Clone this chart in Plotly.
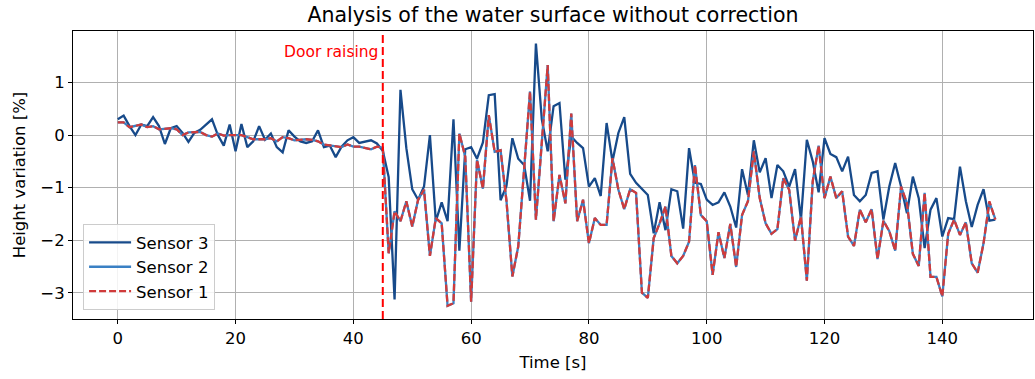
import plotly.graph_objects as go

time_s = list(range(150))

sensor3 = [0.30, 0.37, 0.17, 0.00, 0.20, 0.17, 0.34, 0.17, -0.17, 0.13,
           0.17, 0.04, -0.13, 0.04, 0.10, 0.20, 0.30, 0.00, -0.20, 0.20,
           -0.31, 0.21, -0.23, -0.12, 0.17, -0.09, 0.03, -0.23, -0.33, 0.09,
           -0.03, -0.12, -0.15, -0.12, 0.09, -0.23, -0.20, -0.42, -0.22, -0.10,
           -0.04, -0.15, -0.12, -0.10, -0.16, -0.30, -0.80, -3.13, 0.86, -0.25,
           -1.03, -1.23, -0.98, 0.00, -1.64, -1.28, -1.64, 0.30, -2.20, -0.27,
           -0.23, -0.45, -0.14, 0.76, 0.78, -1.24, -0.97, -0.06, -0.45, -0.57,
           -1.25, 1.74, 0.30, -0.31, 0.55, 0.61, -0.85, -0.03, -0.15, -0.25,
           -0.98, -0.82, -1.16, 0.23, -0.50, 0.04, 0.34, -0.74, -0.91, -1.03,
           -1.14, -1.87, -1.28, -1.81, -1.03, -1.07, -1.78, -0.25, -0.91, -0.93,
           -1.23, -1.33, -1.28, -1.09, -1.36, -1.76, -0.65, -1.14, -0.10, -0.71,
           -0.44, -1.20, -0.57, -0.69, -0.98, -0.65, -1.61, -0.09, -0.50, -1.09,
           -0.06, -0.36, -0.42, -0.69, -0.41, -1.14, -1.26, -1.14, -0.72, -0.69,
           -1.61, -0.98, -0.53, -0.98, -1.49, -0.79, -1.20, -2.15, -1.42, -1.20,
           -1.93, -1.58, -1.60, -0.60, -1.26, -1.75, -1.33, -1.03, -1.63, -1.61]

sensor2 = [0.24, 0.24, 0.15, 0.18, 0.20, 0.15, 0.17, 0.11, 0.12, 0.13,
           0.11, 0.00, 0.05, 0.06, 0.06, 0.00, -0.03, 0.03, -0.01, 0.00,
           0.00, 0.00, -0.04, -0.08, -0.08, -0.08, -0.06, -0.12, -0.04, -0.06,
           -0.10, -0.09, -0.08, -0.09, -0.12, -0.18, -0.20, -0.21, -0.23, -0.18,
           -0.22, -0.22, -0.25, -0.27, -0.22, -0.24, -2.25, -1.45, -1.64, -1.26,
           -1.74, -1.23, -1.04, -2.30, -1.58, -1.68, -3.25, -3.20, 0.03, -0.41,
           -3.17, -0.47, -1.02, 0.38, -0.32, -0.29, -1.25, -2.69, -2.12, -0.70,
           0.83, -1.61, -0.15, 1.33, -1.64, -0.76, -1.30, 0.41, -1.64, -1.23,
           -2.06, -1.58, -1.71, -1.71, -0.44, -1.04, -1.41, -1.03, -1.10, -3.00,
           -3.10, -1.96, -1.68, -1.36, -2.30, -2.44, -2.30, -2.03, -0.57, -1.52,
           -1.64, -2.66, -1.85, -2.34, -1.69, -2.51, -1.52, -1.26, -0.31, -1.20,
           -1.68, -1.88, -1.79, -0.82, -1.04, -2.01, -1.55, -2.77, -0.88, -0.20,
           -1.20, -0.79, -1.20, -1.07, -1.93, -2.11, -1.42, -1.66, -1.41, -2.36,
           -1.63, -1.83, -2.20, -0.98, -1.30, -2.26, -2.49, -1.10, -2.70, -2.70,
           -3.07, -1.88, -1.61, -1.90, -1.66, -2.44, -2.62, -2.06, -1.28, -1.60]

sensor1 = [0.24, 0.24, 0.15, 0.18, 0.20, 0.15, 0.17, 0.11, 0.12, 0.13,
           0.11, 0.00, 0.05, 0.06, 0.06, 0.00, -0.03, 0.03, -0.01, 0.00,
           0.00, 0.00, -0.04, -0.08, -0.08, -0.08, -0.06, -0.12, -0.04, -0.06,
           -0.10, -0.09, -0.08, -0.09, -0.12, -0.18, -0.20, -0.21, -0.23, -0.18,
           -0.22, -0.22, -0.25, -0.27, -0.22, -0.24, -2.25, -1.45, -1.64, -1.26,
           -1.74, -1.23, -1.04, -2.30, -1.58, -1.68, -3.25, -3.20, 0.03, -0.41,
           -3.17, -0.47, -1.02, 0.38, -0.32, -0.29, -1.25, -2.69, -2.12, -0.70,
           0.83, -1.61, -0.15, 1.33, -1.64, -0.76, -1.30, 0.41, -1.64, -1.23,
           -2.06, -1.58, -1.71, -1.71, -0.44, -1.04, -1.41, -1.03, -1.10, -3.00,
           -3.10, -1.96, -1.68, -1.36, -2.30, -2.44, -2.30, -2.03, -0.57, -1.52,
           -1.64, -2.66, -1.85, -2.34, -1.69, -2.51, -1.52, -1.26, -0.31, -1.20,
           -1.68, -1.88, -1.79, -0.82, -1.04, -2.01, -1.55, -2.77, -0.88, -0.20,
           -1.20, -0.79, -1.20, -1.07, -1.93, -2.11, -1.42, -1.66, -1.41, -2.36,
           -1.63, -1.83, -2.20, -0.98, -1.30, -2.26, -2.49, -1.10, -2.70, -2.70,
           -3.07, -1.88, -1.61, -1.90, -1.66, -2.44, -2.62, -2.06, -1.26, -1.61]

door_time = 45
x_ticks = [0, 20, 40, 60, 80, 100, 120, 140]
y_ticks = [-3, -2, -1, 0, 1]

FONT = "DejaVu Sans"

fig = go.Figure()
fig.add_trace(go.Scatter(x=time_s, y=sensor3, mode="lines", name="Sensor 3",
                         line=dict(color="#174a8a", width=2.3), legendgroup="s3"))
fig.add_trace(go.Scatter(x=time_s, y=sensor2, mode="lines", name="Sensor 2",
                         line=dict(color="#3a80c4", width=2.3), legendgroup="s2"))
fig.add_trace(go.Scatter(x=time_s, y=sensor1, mode="lines", name="Sensor 1",
                         line=dict(color="#d03b3b", width=2.3, dash="7px,3px"), legendgroup="s1"))

fig.add_shape(type="line", xref="x", yref="paper", x0=door_time, x1=door_time, y0=0, y1=1,
              line=dict(color="#ff0000", width=2, dash="8px,4px"))
fig.add_annotation(x=door_time, y=1, xref="x", yref="paper", text="Door raising",
                   showarrow=False, xanchor="right", yanchor="top", xshift=-3, yshift=-10,
                   font=dict(family=FONT, size=15.5, color="#ff0000"))

fig.update_layout(
    width=1035, height=379,
    margin=dict(l=73, r=2, t=31, b=60),
    paper_bgcolor="white", plot_bgcolor="white",
    font=dict(family=FONT, size=16.5, color="black"),
    title=dict(text="Analysis of the water surface without correction",
               x=(73 + 1033) / 2 / 1035, xanchor="center", y=1 - 15 / 379, yanchor="middle",
               font=dict(family=FONT, size=20.5, color="black")),
    showlegend=True,
    legend=dict(x=0.0105, y=0.031, xanchor="left", yanchor="bottom",
                bgcolor="rgba(255,255,255,0.85)", bordercolor="#cccccc", borderwidth=1,
                font=dict(family=FONT, size=16.5), tracegroupgap=3, traceorder="normal",
                itemwidth=42),
)
fig.update_xaxes(range=[-7.6, 155.4], tickmode="array", tickvals=x_ticks, automargin=False,
                 showgrid=True, gridcolor="#b0b0b0", gridwidth=1,
                 showline=True, linecolor="black", linewidth=1, mirror=True,
                 ticks="outside", ticklen=4, tickcolor="black", zeroline=False,
                 tickfont=dict(family=FONT, size=16.5),
                 title=dict(text="Time [s]", font=dict(family=FONT, size=16.5), standoff=9))
fig.update_yaxes(range=[-3.50, 1.98], tickmode="array", tickvals=y_ticks, automargin=False,
                 showgrid=True, gridcolor="#b0b0b0", gridwidth=1,
                 showline=True, linecolor="black", linewidth=1, mirror=True,
                 ticks="outside", ticklen=4, tickcolor="black", zeroline=False,
                 tickfont=dict(family=FONT, size=16.5),
                 title=dict(text="Height variation [%]", font=dict(family=FONT, size=16.5), standoff=10))

fig.write_html("out.html", config={"displayModeBar": False},
               post_script="document.body.style.margin='0px';")
